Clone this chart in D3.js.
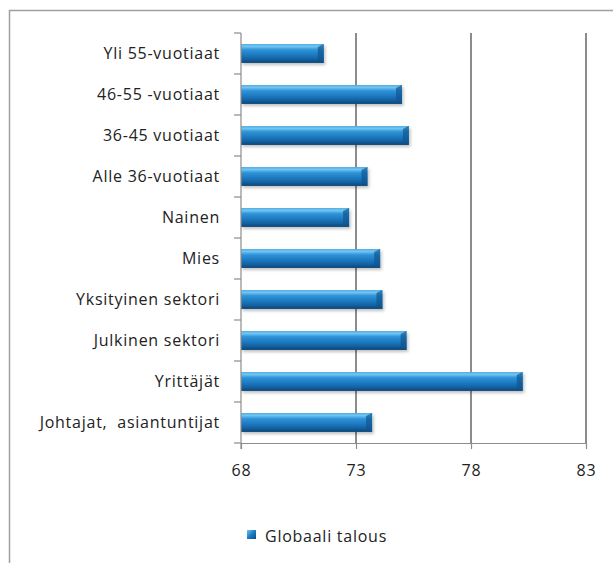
<!DOCTYPE html>
<html><head><meta charset="utf-8">
<script src="https://cdn.jsdelivr.net/npm/d3@7"></script>
<style>html,body{margin:0;padding:0;background:#fff;}</style>
</head><body>
<svg id="c" width="613" height="563"></svg>
<script>
const categories = ["Yli 55-vuotiaat","46-55 -vuotiaat","36-45 vuotiaat","Alle 36-vuotiaat","Nainen","Mies","Yksityinen sektori","Julkinen sektori","Yrittäjät","Johtajat,  asiantuntijat"];
const values = [71.6, 75.0, 75.3, 73.5, 72.7, 74.05, 74.15, 75.2, 80.25, 73.7];
const ticks = [68, 73, 78, 83];
const seriesName = "Globaali talous";

const svg = d3.select("#c");
const font = "'Open Sans', 'Noto Sans', sans-serif";
const fs = 16, ls = "0.75px";
const m = {left: 241, right: 586, top: 33, bottom: 443};

// outer frame
svg.append("rect").attr("x", 9.5).attr("y", 10.5).attr("width", 640).attr("height", 600)
  .attr("fill", "none").attr("stroke", "#a0a0a0").attr("stroke-width", 1.5);

const x = d3.scaleLinear().domain([68, 83]).range([m.left, m.right]);
const y = d3.scaleBand().domain(categories).range([m.top, m.bottom]).paddingInner(0.54).paddingOuter(0.27);
const yb = d3.scaleBand().domain(categories).range([m.top, m.bottom]);

const defs = svg.append("defs");
const g = defs.append("linearGradient").attr("id", "bar").attr("x1", 0).attr("y1", 0).attr("x2", 0).attr("y2", 1);
[[0, "#4aa6e0"], [0.12, "#72c8f4"], [0.3, "#2f93d8"], [0.65, "#1a72b8"], [0.9, "#0f558f"], [1, "#0b4374"]]
  .forEach(([o, c]) => g.append("stop").attr("offset", o).attr("stop-color", c));
const f = defs.append("filter").attr("id", "sh").attr("x", "-5%").attr("y", "-30%").attr("width", "110%").attr("height", "180%");
f.append("feDropShadow").attr("dx", 1.5).attr("dy", 2).attr("stdDeviation", 1.5).attr("flood-color", "#000").attr("flood-opacity", 0.25);

// gridlines
svg.append("g").selectAll("line").data(ticks.slice(1)).join("line")
  .attr("x1", d => x(d)).attr("x2", d => x(d)).attr("y1", m.top).attr("y2", m.bottom)
  .attr("stroke", "#8c8c8c").attr("stroke-width", 1.2).attr("shape-rendering", "crispEdges");

// bars
const bars = svg.append("g");
bars.selectAll("rect").data(values).join("rect")
  .attr("x", x(68)).attr("y", (d, i) => y(categories[i]))
  .attr("width", d => x(d) - x(68)).attr("height", y.bandwidth())
  .attr("fill", "url(#bar)").attr("filter", "url(#sh)");
// bevel at the end
bars.selectAll("path").data(values).join("path")
  .attr("d", (d, i) => {
    const x1 = x(d), y0 = y(categories[i]), h = y.bandwidth();
    return `M${x1 - 6},${y0 + 3} L${x1},${y0} L${x1},${y0 + h} L${x1 - 6},${y0 + h - 3} Z`;
  })
  .attr("fill", "#0f5690").attr("opacity", 0.7);

// x axis
const xa = svg.append("g").attr("transform", `translate(0,${m.bottom})`)
  .call(d3.axisBottom(x).tickValues(ticks).tickSize(6).tickPadding(16).tickSizeOuter(0));
xa.select(".domain").attr("stroke", "#8c8c8c").attr("stroke-width", 1.2);
xa.selectAll(".tick line").attr("stroke", "#8c8c8c").attr("stroke-width", 1.2);
xa.selectAll("text").attr("font-family", font).attr("font-size", fs).attr("fill", "#222")
  .style("letter-spacing", ls);

// y axis (ticks between categories)
const ya = svg.append("g").attr("transform", `translate(${m.left},0)`);
ya.append("line").attr("x1", 0).attr("x2", 0).attr("y1", m.top).attr("y2", m.bottom + 6)
  .attr("stroke", "#8c8c8c").attr("stroke-width", 1.2);
const bounds = categories.map(c => yb(c)).concat([m.bottom]);
ya.selectAll("line.t").data(bounds).join("line").attr("class", "t")
  .attr("x1", -7).attr("x2", 0).attr("y1", d => d).attr("y2", d => d)
  .attr("stroke", "#8c8c8c").attr("stroke-width", 1.2);
ya.selectAll("text").data(categories).join("text")
  .attr("x", -21).attr("y", c => yb(c) + yb.bandwidth() / 2).attr("dy", "0.35em")
  .attr("text-anchor", "end").attr("font-family", font).attr("font-size", fs).attr("fill", "#222")
  .style("white-space", "pre").style("letter-spacing", ls)
  .text(c => c);

// legend
const lg = svg.append("g").attr("transform", "translate(247,530)");
const lgG = defs.append("linearGradient").attr("id", "lg").attr("x1", 0).attr("y1", 0).attr("x2", 1).attr("y2", 1);
[[0, "#6cc4f2"], [0.5, "#1f7cc4"], [1, "#0d4a80"]].forEach(([o, c]) => lgG.append("stop").attr("offset", o).attr("stop-color", c));
lg.append("rect").attr("width", 9).attr("height", 9).attr("fill", "url(#lg)");
lg.append("text").attr("x", 18).attr("y", 6).attr("dy", "0.35em").attr("font-family", font)
  .attr("font-size", fs).attr("fill", "#222").style("letter-spacing", ls).text(seriesName);
</script>
</body></html>
